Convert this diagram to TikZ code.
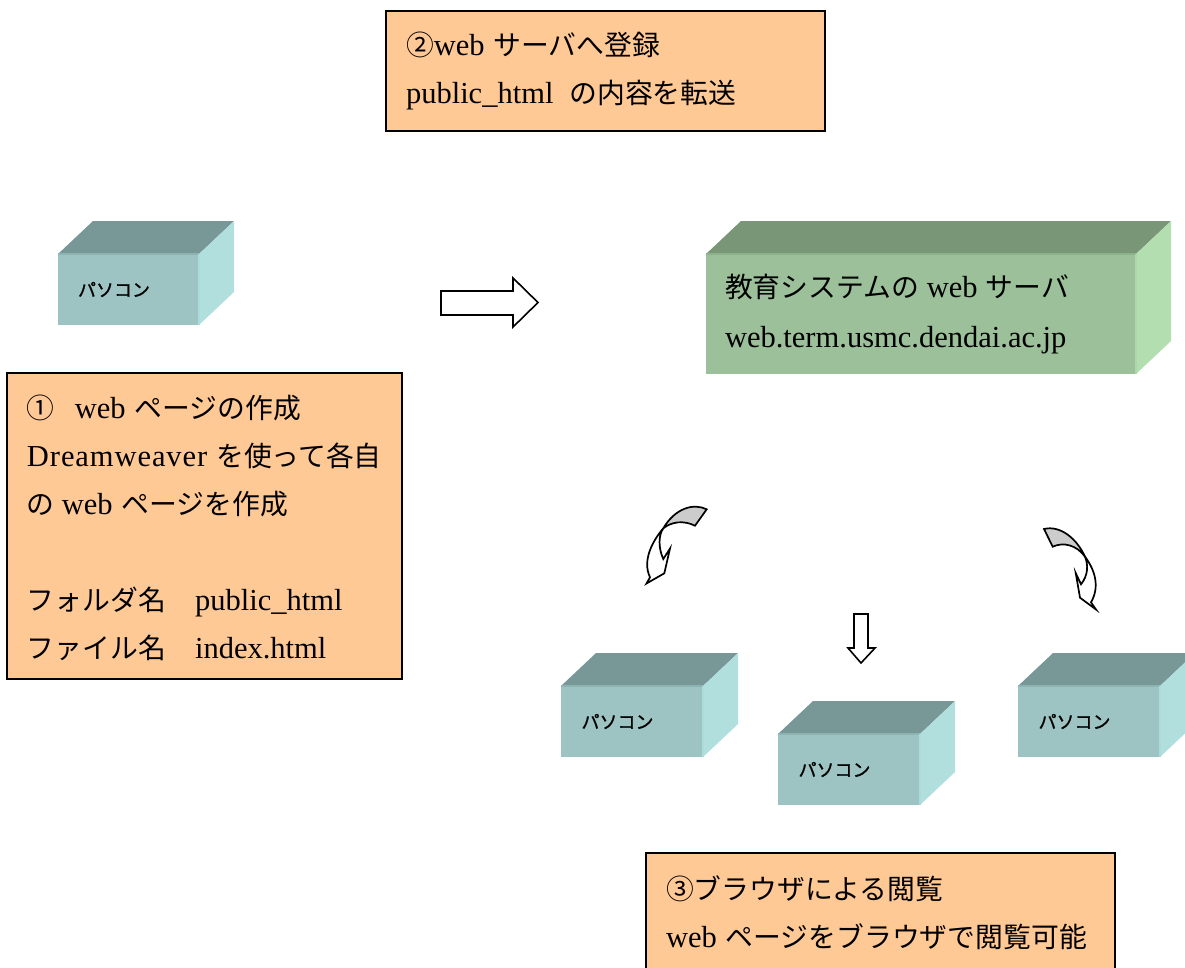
\documentclass[tikz,border=0pt]{standalone}
\usepackage{fontspec}
\setmainfont{Liberation Serif}[Scale=1.13]
\newfontfamily\jpfont{Noto Sans CJK JP}[Scale=1.03]
\newfontfamily\pcfont{Noto Sans CJK JP}[FakeBold=1]
\newcommand{\ja}[1]{{\jpfont #1}}
\newcommand{\jsp}{\hspace{9pt}}
\definecolor{boxorange}{HTML}{FFC996}
\definecolor{pcfrontcol}{HTML}{9DC3C3}
\definecolor{pctopcol}{HTML}{789797}
\definecolor{pcsidecol}{HTML}{B1DFDE}
\definecolor{pcedgecol}{HTML}{8DB3B3}
\definecolor{pclightcol}{HTML}{ADDBDB}
\definecolor{srvfrontcol}{HTML}{9CC09A}
\definecolor{srvtopcol}{HTML}{799777}
\definecolor{srvsidecol}{HTML}{B3DFB0}
\definecolor{srvedgecol}{HTML}{8DB28B}
\definecolor{srvlightcol}{HTML}{AAD8A8}
\definecolor{curvegray}{HTML}{CCCCCC}
\tikzset{
  infobox/.style={draw=black, line width=1.6pt, fill=boxorange, anchor=north west, outer sep=0pt,
    inner xsep=20pt, inner ysep=0pt, align=left, font=\fontsize{27}{48}\selectfont},
  pcfront/.style={fill=pcfrontcol, anchor=north west, outer sep=0pt, inner xsep=20pt, inner ysep=0pt,
    minimum height=71pt, text width=101pt, align=left, font=\pcfont\fontsize{18}{22}\selectfont},
  srvfront/.style={fill=srvfrontcol, anchor=north west, outer sep=0pt, inner xsep=19pt, inner ysep=0pt,
    minimum height=120pt, text width=392pt, align=left, font=\fontsize{27}{50}\selectfont},
  blockarrow/.style={draw=black, line width=1.6pt, fill=white, line join=miter},
  curvearrow/.style={draw=black, line width=1.7pt, fill=white, line join=miter},
  curvetop/.style={draw=black, line width=1.7pt, fill=curvegray, line join=miter}
}
\begin{document}
\begin{tikzpicture}[x=1pt, y=-1pt]
    \useasboundingbox (0,0) rectangle (1185,967);
    \clip (0,0) rectangle (1185,967);

    % text boxes
    \node[infobox, minimum width=439pt, minimum height=120pt, text width=399pt] (regist) at (386,11)
      {\ja{②}web\jsp\ja{サーバへ登録}\\public\_html\hspace{16pt}\ja{の内容を転送}};
    \node[infobox, minimum width=395pt, minimum height=306pt, text width=355pt] (make) at (7,373)
      {\rule{0pt}{27pt}\ja{①}\hspace{20pt}web\jsp\ja{ページの作成}\\{\addfontfeature{LetterSpace=3}Dreamweaver}\jsp\ja{を使って各自}\\\ja{の}\hspace{7pt}web\jsp\ja{ページを作成}\\[48pt]\ja{フォルダ名}\hspace{29pt}public\_html\\\ja{ファイル名}\hspace{29pt}index.html};
    \node[infobox, minimum width=469pt, minimum height=120pt, text width=429pt] (browse) at (646,853)
      {\ja{③ブラウザによる閲覧}\\web\jsp\ja{ページをブラウザで閲覧可能}};

    % server
    \node[srvfront, minimum width=430pt] (server) at (706,254)
      {\ja{教育システムの}\hspace{8pt}web\hspace{8pt}\ja{サーバ}\\web.term.usmc.dendai.ac.jp};
    \fill[srvtopcol] (server.north west) -- ++(35,-33) -- ++(430,0) -- (server.north east) -- cycle;
    \fill[srvsidecol] (server.north east) -- ++(35,-33) -- ++(0,120) -- (server.south east) -- cycle;
    \draw[srvedgecol, line width=2pt] (server.north west) -- (server.north east);
    \draw[srvlightcol, line width=2pt] (server.north east) -- (server.south east);

    % personal computers
    \foreach \name/\px/\py/\pw in {pca/58/254/141, pcb/561/686/142, pcc/778/734/142, pcd/1018/686/142} {
      \node[pcfront, minimum width=\pw pt] (\name) at (\px,\py) {パソコン};
      \fill[pctopcol] (\name.north west) -- ++(35,-33) -- ++(\pw,0) -- (\name.north east) -- cycle;
      \fill[pcsidecol] (\name.north east) -- ++(35,-33) -- ++(0,71) -- (\name.south east) -- cycle;
      \draw[pcedgecol, line width=2pt] (\name.north west) -- (\name.north east);
      \draw[pclightcol, line width=2pt] (\name.north east) -- (\name.south east);
    }

    % block arrows
    \draw[blockarrow] (441,291) -- (513,291) -- (513,278) -- (538,302.5) -- (513,327) -- (513,315) -- (441,315) -- cycle;
    \draw[blockarrow] (854,614) -- (868,614) -- (868,648) -- (875,648) -- (861,663) -- (848,648) -- (854,648) -- cycle;

    % curved arrows
    \draw[curvearrow] (663.3,528.3) .. controls (653.3,540) and (641.7,560) .. (650,577.3)
      -- (646.5,583.5) -- (664.3,573.3) -- (670,548.5) -- (663.3,559)
      .. controls (658.3,548.3) and (658.3,535) .. (663.3,528.3) -- cycle;
    \draw[curvetop] (706.7,509.3) .. controls (693.3,502.7) and (675,508.3) .. (663.3,528.3)
      .. controls (671.7,521.7) and (683.3,520) .. (695,525.7) -- cycle;
    \draw[curvearrow] (1085,556.7) .. controls (1095,570) and (1100,586.7) .. (1091,602.3)
      -- (1096,609.5) -- (1080,597.7) -- (1075.7,573) -- (1081,584.3)
      .. controls (1088.3,575) and (1088.3,565) .. (1085,556.7) -- cycle;
    \draw[curvetop] (1044,529) .. controls (1060,525) and (1076.7,538.3) .. (1085,556.7)
      .. controls (1076.7,545) and (1063.3,541.7) .. (1052.7,546.7) -- cycle;
\end{tikzpicture}
\end{document}
